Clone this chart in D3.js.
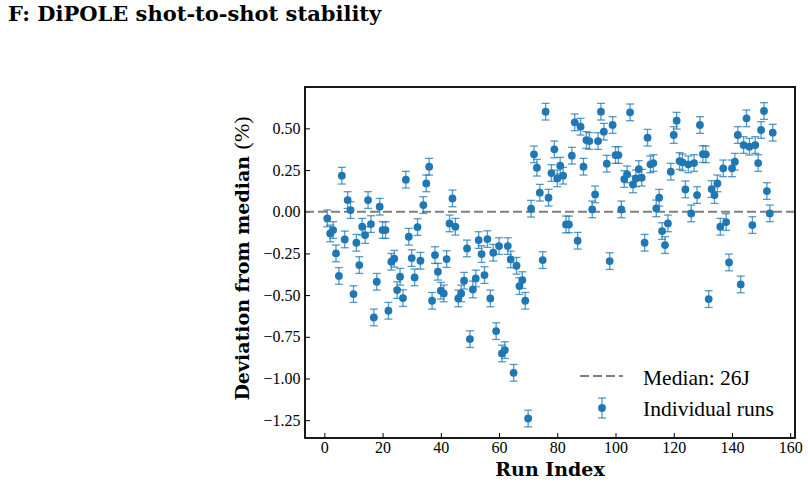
<!DOCTYPE html>
<html>
<head>
<meta charset="utf-8">
<script src="https://cdn.jsdelivr.net/npm/d3@7"></script>
<style>
	body { margin: 0; background: #fff; }
	svg text { font-family: 'Liberation Serif', 'DejaVu Serif', serif; fill: #000; }
	svg text.bold { font-family: 'DejaVu Serif', serif; font-weight: bold; }
</style>
</head>
<body>
<svg id="chart" width="808" height="486"></svg>
<script>
// deviation from median (%) for each run, run index 1..154
const deviation = [
	-0.04, -0.13, -0.11, -0.25, -0.385, 0.216, -0.166, 0.07, 0.01, -0.494,
	-0.186, -0.32, -0.09, -0.14, 0.07, -0.074, -0.634, -0.42, 0.03, -0.11,
	-0.11, -0.594, -0.30, -0.282, -0.47, -0.39, -0.518, 0.192, -0.15, -0.278,
	-0.394, -0.092, -0.294, 0.04, 0.17, 0.27, -0.534, -0.26, -0.36, -0.474,
	-0.49, -0.284, -0.07, 0.08, -0.09, -0.52, -0.49, -0.414, -0.22, -0.764,
	-0.466, -0.40, -0.17, -0.254, -0.38, -0.164, -0.52, -0.246, -0.716, -0.206,
	-0.85, -0.83, -0.206, -0.286, -0.966, -0.324, -0.446, -0.41, -0.534, -1.24,
	0.018, 0.344, 0.264, 0.114, -0.29, 0.60, 0.084, 0.232, 0.374, 0.20,
	0.276, 0.216, -0.076, -0.076, 0.336, 0.536, -0.174, 0.51, 0.27, 0.43,
	0.424, 0.014, 0.104, 0.424, 0.60, 0.48, 0.288, -0.296, 0.52, 0.34,
	0.34, 0.014, 0.196, 0.224, 0.596, 0.164, 0.20, 0.256, 0.204, -0.186,
	0.444, 0.284, 0.292, 0.02, 0.084, -0.116, -0.2, -0.07, 0.24, 0.46,
	0.546, 0.304, 0.296, 0.134, 0.284, -0.01, 0.292, 0.10, 0.52, 0.346,
	0.344, -0.524, 0.136, 0.10, 0.17, -0.09, 0.26, -0.062, -0.304, 0.26,
	0.30, 0.46, -0.436, 0.40, 0.56, 0.39, -0.08, 0.40, 0.292, 0.49,
	0.604, 0.124, -0.01, 0.474
]
const errSize = 0.05
const median = 0
const medianLabel = 'Median: 26J'
const xTicks = [0, 20, 40, 60, 80, 100, 120, 140, 160]
const yTicks = [0.5, 0.25, 0, -0.25, -0.5, -0.75, -1.0, -1.25]

const runs = deviation.map((d, i) => ({ run: i + 1, dev: d, err: errSize }))

const blue = '#1f77b4'
const plotL = 305, plotR = 795, plotT = 87, plotB = 438

const svg = d3.select('#chart')

const xScale = d3.scaleLinear()
	.domain([-6.65, 161.65])
	.range([plotL, plotR])

const yScale = d3.scaleLinear()
	.domain([-1.357, 0.748])
	.range([plotB, plotT])

svg.append('text')
	.attr('class', 'bold')
	.attr('x', 8)
	.attr('y', 21)
	.style('font-size', '21px')
	.text('F: DiPOLE shot-to-shot stability')

// axes
const xAxis = d3.axisBottom(xScale)
	.tickValues(xTicks)
	.tickSizeInner(-5)
	.tickSizeOuter(0)
	.tickPadding(4)
	.tickFormat(d3.format('d'))

const yAxis = d3.axisLeft(yScale)
	.tickValues(yTicks)
	.tickSizeInner(-5)
	.tickSizeOuter(0)
	.tickPadding(4.5)
	.tickFormat(d => d3.format('.2f')(d).replace('-', '\u2212'))

const gx = svg.append('g')
	.attr('transform', `translate(0,${plotB})`)
	.call(xAxis)
gx.select('.domain').remove()
gx.selectAll('text').style('font-size', '16px').style('font-family', "'Liberation Serif', serif")
gx.selectAll('line').attr('stroke-width', 1)

const gy = svg.append('g')
	.attr('transform', `translate(${plotL},0)`)
	.call(yAxis)
gy.select('.domain').remove()
gy.selectAll('text').style('font-size', '16px').style('font-family', "'Liberation Serif', serif")
gy.selectAll('line').attr('stroke-width', 1)

// median line
svg.append('line')
	.attr('x1', plotL)
	.attr('x2', plotR)
	.attr('y1', yScale(median))
	.attr('y2', yScale(median))
	.attr('stroke', '#808080')
	.attr('stroke-width', 2.2)
	.attr('stroke-dasharray', '9,4')

// error bars
const eb = svg.append('g')
	.selectAll('g')
	.data(runs)
	.enter()
	.append('g')
	.attr('stroke', blue)
	.attr('stroke-opacity', 0.75)
	.attr('stroke-width', 1.3)

eb.append('line')
	.attr('x1', d => xScale(d.run))
	.attr('x2', d => xScale(d.run))
	.attr('y1', d => yScale(d.dev - d.err))
	.attr('y2', d => yScale(d.dev + d.err))

eb.append('line')
	.attr('x1', d => xScale(d.run) - 4)
	.attr('x2', d => xScale(d.run) + 4)
	.attr('y1', d => yScale(d.dev - d.err))
	.attr('y2', d => yScale(d.dev - d.err))

eb.append('line')
	.attr('x1', d => xScale(d.run) - 4)
	.attr('x2', d => xScale(d.run) + 4)
	.attr('y1', d => yScale(d.dev + d.err))
	.attr('y2', d => yScale(d.dev + d.err))

svg.append('g')
	.selectAll('circle')
	.data(runs)
	.enter()
	.append('circle')
	.attr('cx', d => xScale(d.run))
	.attr('cy', d => yScale(d.dev))
	.attr('r', 3.9)
	.attr('fill', blue)

// frame
svg.append('rect')
	.attr('x', plotL)
	.attr('y', plotT)
	.attr('width', plotR - plotL)
	.attr('height', plotB - plotT)
	.attr('fill', 'none')
	.attr('stroke', '#000')
	.attr('stroke-width', 1.8)

// axis labels
svg.append('text')
	.attr('class', 'bold')
	.attr('x', (plotL + plotR) / 2)
	.attr('y', 476)
	.attr('text-anchor', 'middle')
	.style('font-size', '19px')
	.text('Run Index')

const yl = svg.append('text')
	.attr('transform', `translate(249,${(plotT + plotB) / 2 - 4}) rotate(-90)`)
	.attr('text-anchor', 'middle')
	.style('font-size', '19px')
yl.append('tspan')
	.style('font-family', "'DejaVu Serif', serif")
	.style('font-weight', 'bold')
	.text('Deviation from median ')
yl.append('tspan').style('font-size', '22px').text('(%)')

// legend
const lg = svg.append('g')
lg.append('line')
	.attr('x1', 580)
	.attr('x2', 623)
	.attr('y1', 376)
	.attr('y2', 376)
	.attr('stroke', '#808080')
	.attr('stroke-width', 2.2)
	.attr('stroke-dasharray', '9,4')
lg.append('text')
	.attr('x', 643)
	.attr('y', 385)
	.style('font-size', '21.5px')
	.text(medianLabel)

const lgY = 408
lg.append('line')
	.attr('x1', 602).attr('x2', 602)
	.attr('y1', lgY - 10).attr('y2', lgY + 10)
	.attr('stroke', blue).attr('stroke-opacity', 0.75).attr('stroke-width', 1.3)
lg.selectAll('line.cap')
	.data([lgY - 10, lgY + 10])
	.enter()
	.append('line')
	.attr('class', 'cap')
	.attr('x1', 598).attr('x2', 606)
	.attr('y1', d => d).attr('y2', d => d)
	.attr('stroke', blue).attr('stroke-opacity', 0.75).attr('stroke-width', 1.3)
lg.append('circle')
	.attr('cx', 602).attr('cy', lgY).attr('r', 3.9).attr('fill', blue)
lg.append('text')
	.attr('x', 643)
	.attr('y', 416)
	.style('font-size', '21.5px')
	.text('Individual runs')
</script>
</body>
</html>
